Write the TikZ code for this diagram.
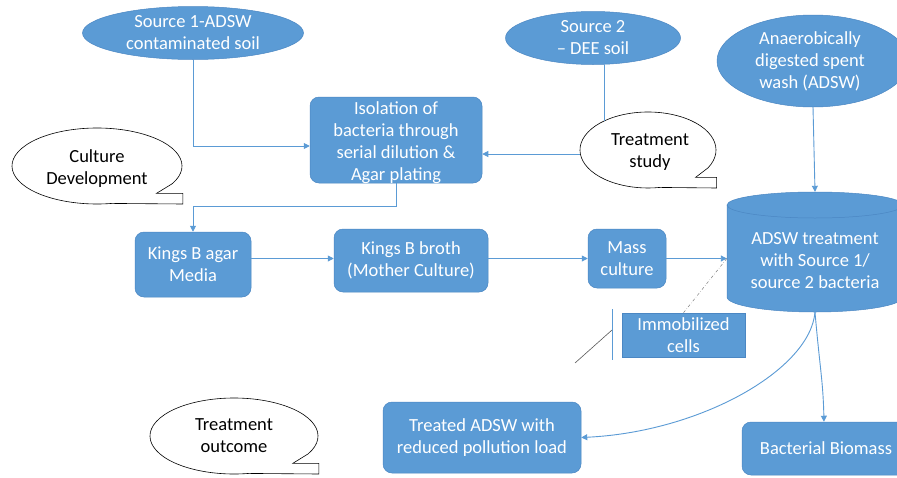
\documentclass[tikz,border=0pt]{standalone}
\usepackage{fontspec}
\setmainfont{Carlito}
\usetikzlibrary{arrows.meta,calc,shapes.geometric}
\definecolor{bfill}{RGB}{91,155,213}
\definecolor{bdraw}{RGB}{75,135,195}
\definecolor{lineb}{RGB}{91,155,213}
\newcommand{\drawcallout}[3]{%
 \draw[callline] ($(#1.center)+({#2*cos(-28)},{#3*sin(-28)})$) arc[start angle=-28,end angle=280,x radius=#2,y radius=#3]
  -- ($(#1.center)+({1.01*#2},{-#3})$) -- ($(#1.center)+({1.01*#2},{-0.72*#3})$)
  -- ($(#1.center)+({0.7*#2},{-0.72*#3})$) -- cycle;}
\begin{document}
\begin{tikzpicture}[x=1pt,y=1pt,
 txt/.style={font=\fontsize{18.5}{22}\selectfont, align=center},
 box/.style={txt, rectangle, rounded corners=9pt, fill=bfill, draw=bdraw, line width=0.5pt, text=white, inner sep=0pt},
 oval/.style={ellipse, fill=bfill, draw=bdraw, line width=0.5pt, inner sep=0pt},
 wlab/.style={txt, text=white},
 klab/.style={txt, text=black},
 cshape/.style={ellipse, inner sep=0pt},
 conn/.style={draw=lineb, line width=0.9pt},
 arr/.style={conn, -{Triangle[width=6pt,length=6pt]}},
 callline/.style={draw=black, line width=0.6pt}]
\useasboundingbox (0,0) rectangle (897,-477);
\clip (0,0) rectangle (897,-477);
\fill[white] (0,0) rectangle (897,-477);

% ellipses
\node[oval, minimum width=221pt, minimum height=53pt, label={[wlab]center:{Source 1-ADSW\\contaminated soil}}] (src1) at (193,-33) {};
\node[oval, minimum width=175pt, minimum height=53pt, label={[wlab]center:{Source 2\\– DEE soil}}] (src2) at (593,-38) {};
\node[oval, minimum width=192pt, minimum height=92pt, label={[wlab,xshift=-3pt]center:{Anaerobically\\digested spent\\wash (ADSW)}}] (anaer) at (813,-61) {};

% boxes
\node[box, minimum width=172pt, minimum height=86pt] (iso) at (396,-140) {};
\node[wlab] (isotxt) at (396,-143) {Isolation of\\bacteria through\\serial dilution \&\\Agar plating};
\node[box, minimum width=116pt, minimum height=65pt] (agar) at (193,-264.5) {Kings B agar\\Media};
\node[box, minimum width=154pt, minimum height=63pt] (broth) at (411,-260.5) {Kings B broth\\(Mother Culture)};
\node[box, minimum width=78pt, minimum height=59pt] (mass) at (627,-258.5) {Mass\\culture};
\node[box, sharp corners, minimum width=123pt, minimum height=44pt] (imm) at (683.5,-335) {Immobilized\\cells};
\node[box, minimum width=198pt, minimum height=71pt] (treated) at (482,-437.5) {Treated ADSW with\\reduced pollution load};
\node[box, minimum width=168pt, minimum height=53pt] (bio) at (826,-448.5) {Bacterial Biomass};

% cylinder
\fill[bfill] (727,-205) -- (727,-297) arc[start angle=180,end angle=360,x radius=88,y radius=15] -- (903,-205) arc[start angle=0,end angle=180,x radius=88,y radius=13] -- cycle;
\draw[bdraw, line width=0.5pt] (727,-205) -- (727,-297) arc[start angle=180,end angle=360,x radius=88,y radius=15] -- (903,-205);
\draw[bdraw, line width=0.5pt] (815,-205) ellipse[x radius=88, y radius=13];
\node[inner sep=0pt, minimum width=176pt, minimum height=120pt, label={[wlab,yshift=-9pt]center:{ADSW treatment\\with Source 1/\\source 2 bacteria}}] (cyl) at (815,-252) {};

% callouts
\node[cshape, minimum width=170pt, minimum height=76pt, label={[klab,yshift=-3pt]center:{Culture\\Development}}] (cd) at (97,-166) {};
\drawcallout{cd}{85}{38}
\node[cshape, minimum width=136pt, minimum height=76pt, label={[klab,xshift=2pt,yshift=-2pt]center:{Treatment\\study}}] (ts) at (648,-150) {};
\drawcallout{ts}{68}{38}
\node[cshape, minimum width=168pt, minimum height=76pt, label={[klab]center:{Treatment\\outcome}}] (to) at (234,-436) {};
\drawcallout{to}{84}{38}

% connectors
\draw[arr] (src1.south) |- ([yshift=-6pt]iso.west);
\draw[conn] (ts.146 |- src2.south) -- (ts.146);
\draw[arr] ([yshift=-4pt]ts.west) -- ([yshift=-4pt]ts.west -| iso.east);
\draw[arr] (iso.south) -- ++(0,-23) -| (agar.north);
\draw[arr] (agar.east |- mass.west) -- (broth.west |- mass.west);
\draw[arr] (broth.east |- mass.west) -- (mass.west);
\coordinate (cylin) at (mass.east -| cyl.west);
\draw[arr] (mass.east) -- (cylin);
\draw[arr] (anaer.south |- 0,-107) -- (cyl.north);
\draw[gray, dash dot, line width=0.5pt] (imm.north) -- (cylin);
\draw[arr] (cyl.south) .. controls (810,-370) and (700,-432) .. (treated.east);
\draw[arr] (cyl.south) .. controls (820,-370) and (823,-380) .. ([xshift=-2pt]bio.north);

% stray strokes
\draw[lineb, line width=1pt] (612,-309) -- (612,-360);
\draw[black!65, line width=0.6pt] (575,-363) -- (612,-330);
\end{tikzpicture}
\end{document}
